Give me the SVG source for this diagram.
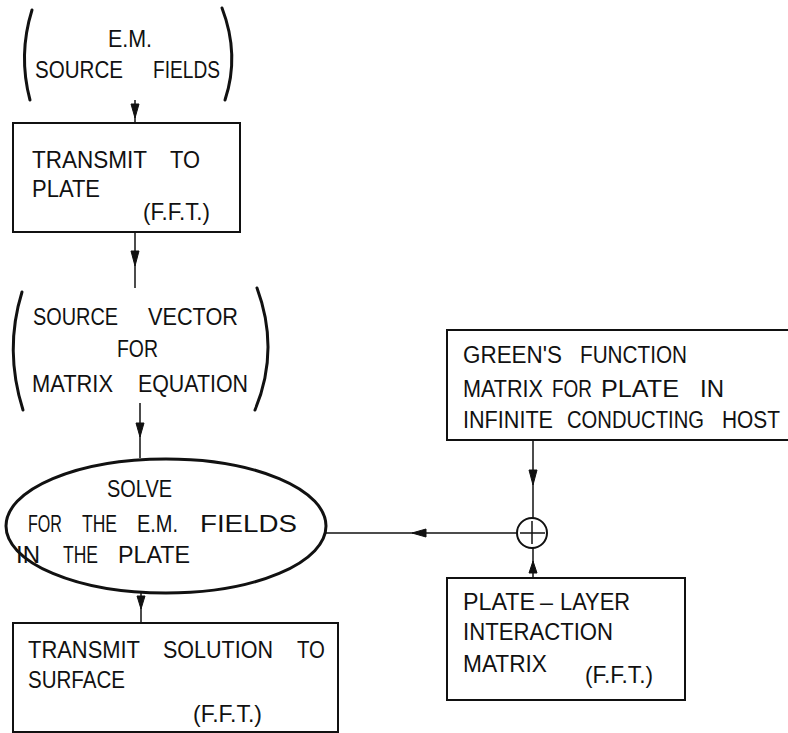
<svg xmlns="http://www.w3.org/2000/svg" width="788" height="733" viewBox="0 0 788 733">
<style>
.s{fill:none;stroke:#111;stroke-width:2}
.p{fill:none;stroke:#111;stroke-width:3;stroke-linecap:round}
.c{fill:none;stroke:#111;stroke-width:1.5}
.a{fill:#111;stroke:#111;stroke-width:1}
text{font-family:"Liberation Sans",Arial,sans-serif;font-size:24px;fill:#111}
.g{font-size:23px}
</style>
<rect width="788" height="733" fill="#fff"/>
<g id="connectors">
<line class="c" x1="135" y1="100" x2="135" y2="123"/>
<polygon class="a" points="131,104 139,104 135,118"/>
<line class="c" x1="135" y1="232" x2="135" y2="288"/>
<polygon class="a" points="131,251 139,251 135,266"/>
<line class="c" x1="140" y1="403" x2="140" y2="458"/>
<polygon class="a" points="136,423 144,423 140,437"/>
<line class="c" x1="141" y1="593" x2="141" y2="623"/>
<polygon class="a" points="137,596 145,596 141,609"/>
<line class="c" x1="533" y1="440" x2="533" y2="518"/>
<polygon class="a" points="529,470 537,470 533,485"/>
<line class="c" x1="533" y1="578" x2="533" y2="548"/>
<polygon class="a" points="529,573 537,573 533,561"/>
<line class="c" x1="517" y1="533" x2="325" y2="533"/>
<polygon class="a" points="426,529 426,537 412,533"/>
</g>
<g id="em-source">
<path class="p" d="M32,10 Q18,55 30,100"/>
<path class="p" d="M222,8 Q240,55 225,100"/>
<text x="108" y="47" textLength="44" lengthAdjust="spacingAndGlyphs">E.M.</text>
<text x="35" y="78" textLength="88" lengthAdjust="spacingAndGlyphs">SOURCE</text>
<text x="153" y="78" textLength="67" lengthAdjust="spacingAndGlyphs">FIELDS</text>
</g>
<g id="transmit-plate">
<rect class="s" x="13" y="123" width="227" height="109"/>
<text x="32" y="168" textLength="115" lengthAdjust="spacingAndGlyphs">TRANSMIT</text>
<text x="170" y="168" textLength="30" lengthAdjust="spacingAndGlyphs">TO</text>
<text x="32" y="197" textLength="68" lengthAdjust="spacingAndGlyphs">PLATE</text>
<text x="143" y="220" textLength="67" lengthAdjust="spacingAndGlyphs">(F.F.T.)</text>
</g>
<g id="source-vector">
<path class="p" d="M22,292 Q4,350 23,410"/>
<path class="p" d="M257,288 Q280,350 255,410"/>
<text x="33" y="325" textLength="85" lengthAdjust="spacingAndGlyphs">SOURCE</text>
<text x="148" y="325" textLength="90" lengthAdjust="spacingAndGlyphs">VECTOR</text>
<text x="117" y="357" textLength="41" lengthAdjust="spacingAndGlyphs">FOR</text>
<text x="32" y="392" textLength="81" lengthAdjust="spacingAndGlyphs">MATRIX</text>
<text x="138" y="392" textLength="110" lengthAdjust="spacingAndGlyphs">EQUATION</text>
</g>
<g id="solve">
<ellipse cx="166" cy="526" rx="160" ry="67" fill="none" stroke="#111" stroke-width="3"/>
<text x="107" y="497" textLength="65" lengthAdjust="spacingAndGlyphs">SOLVE</text>
<text x="28" y="532" textLength="34" lengthAdjust="spacingAndGlyphs">FOR</text>
<text x="82" y="532" textLength="35" lengthAdjust="spacingAndGlyphs">THE</text>
<text x="137" y="532" textLength="41" lengthAdjust="spacingAndGlyphs">E.M.</text>
<text x="200" y="532" textLength="97" lengthAdjust="spacingAndGlyphs">FIELDS</text>
<text x="16" y="563">IN</text>
<text x="63" y="563" textLength="35" lengthAdjust="spacingAndGlyphs">THE</text>
<text x="118" y="563" textLength="72" lengthAdjust="spacingAndGlyphs">PLATE</text>
</g>
<g id="transmit-surface">
<rect class="s" x="13" y="623" width="325" height="109"/>
<text x="28" y="658" textLength="112" lengthAdjust="spacingAndGlyphs">TRANSMIT</text>
<text x="163" y="658" textLength="110" lengthAdjust="spacingAndGlyphs">SOLUTION</text>
<text x="297" y="658" textLength="28" lengthAdjust="spacingAndGlyphs">TO</text>
<text x="28" y="688" textLength="97" lengthAdjust="spacingAndGlyphs">SURFACE</text>
<text x="193" y="722" textLength="69" lengthAdjust="spacingAndGlyphs">(F.F.T.)</text>
</g>
<g id="greens-function">
<rect class="s" x="447" y="330" width="360" height="110"/>
<text class="g" x="463" y="363" textLength="99" lengthAdjust="spacingAndGlyphs">GREEN'S</text>
<text class="g" x="580" y="363" textLength="107" lengthAdjust="spacingAndGlyphs">FUNCTION</text>
<text class="g" x="463" y="397" textLength="80" lengthAdjust="spacingAndGlyphs">MATRIX</text>
<text class="g" x="552" y="397" textLength="40" lengthAdjust="spacingAndGlyphs">FOR</text>
<text class="g" x="601" y="397" textLength="78" lengthAdjust="spacingAndGlyphs">PLATE</text>
<text class="g" x="700" y="397" textLength="24" lengthAdjust="spacingAndGlyphs">IN</text>
<text class="g" x="463" y="428" textLength="90" lengthAdjust="spacingAndGlyphs">INFINITE</text>
<text class="g" x="567" y="428" textLength="137" lengthAdjust="spacingAndGlyphs">CONDUCTING</text>
<text class="g" x="722" y="428" textLength="58" lengthAdjust="spacingAndGlyphs">HOST</text>
</g>
<g id="sum">
<circle cx="532" cy="533" r="15" fill="#fff" stroke="#111" stroke-width="2"/>
<line class="c" x1="520" y1="533" x2="545" y2="533"/>
<line class="c" x1="532" y1="521" x2="532" y2="544"/>
</g>
<g id="plate-layer">
<rect class="s" x="447" y="578" width="238" height="122"/>
<text x="463" y="610" textLength="72" lengthAdjust="spacingAndGlyphs">PLATE</text>
<text x="540" y="610" textLength="13" lengthAdjust="spacingAndGlyphs">–</text>
<text x="560" y="610" textLength="70" lengthAdjust="spacingAndGlyphs">LAYER</text>
<text x="463" y="640" textLength="150" lengthAdjust="spacingAndGlyphs">INTERACTION</text>
<text x="463" y="672" textLength="84" lengthAdjust="spacingAndGlyphs">MATRIX</text>
<text x="585" y="683" textLength="68" lengthAdjust="spacingAndGlyphs">(F.F.T.)</text>
</g>
</svg>
